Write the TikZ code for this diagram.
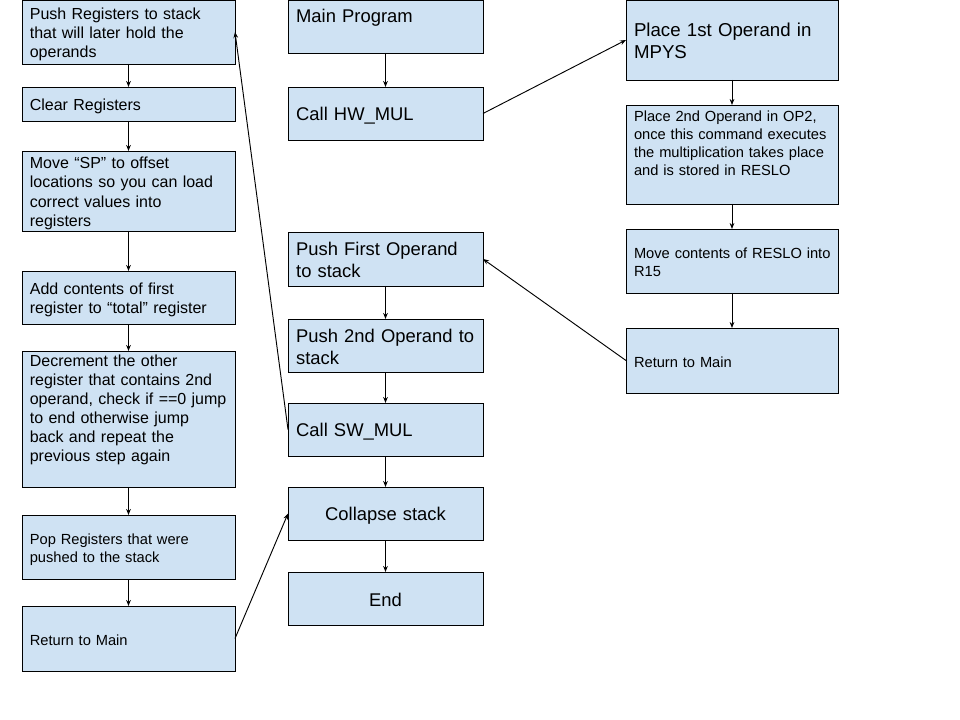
\documentclass[tikz,border=0pt]{standalone}
\usepackage{fontspec}
\setmainfont{Liberation Sans}
\usetikzlibrary{arrows.meta,positioning}
\definecolor{boxblue}{HTML}{CFE2F3}
\newcommand\boxstrut{\rule[-0.17em]{0pt}{\baselineskip}}
\newcommand\boxdepth{\rule[-0.17em]{0pt}{0.17em}}

\begin{document}
\begin{tikzpicture}[->,>={Stealth[length=4.5pt,width=3.5pt]},x=0.75pt,y=-0.75pt,
                    line width=0.7pt]
  \tikzstyle{box}=[draw=black,fill=boxblue,align=left,inner ysep=0pt,outer sep=0pt,
                   execute at begin node=\boxstrut,execute at end node=\boxdepth]
  \tikzstyle{lcol}=[box,text width=148pt,inner xsep=5.875pt,
                    font=\fontsize{12}{14.3}\selectfont]
  \tikzstyle{mcol}=[box,text width=134pt,inner xsep=6.125pt,minimum height=39.75pt,
                    font=\fontsize{13.8}{16.25}\selectfont]
  \tikzstyle{rcol}=[box,text width=147pt,inner xsep=6pt,
                    font=\fontsize{11}{13.5}\selectfont]
  \tikzstyle{small}=[font=\fontsize{11}{13.5}\selectfont]
  \tikzstyle{big}=[font=\fontsize{14}{16.25}\selectfont]

  \path[use as bounding box,fill=white] (0,0) rectangle (960,720);

  % left column: software multiply
  \node[lcol,minimum height=48pt,anchor=north west] (L1) at (22,0)
       {Push Registers to stack\\that will later hold the\\operands};
  \node[lcol,minimum height=25.5pt] (L2) [below=17.25pt of L1] {Clear Registers};
  \node[lcol,minimum height=60pt]   (L3) [below=22.5pt of L2]
       {Move “SP” to offset\\locations so you can load\\correct values into\\registers};
  \node[lcol,minimum height=39.75pt] (L4) [below=30pt of L3]
       {Add contents of first\\register to “total” register};
  \node[lcol,text height=11.7pt,text depth=90.3pt] (L5) [below=20.25pt of L4]
       {Decrement the other\\register that contains 2nd\\\mbox{operand, check if ==0 jump}\\to end otherwise jump\\back and repeat the\\previous step again};
  \node[lcol,small,minimum height=48pt] (L6) [below=21pt of L5]
       {Pop Registers that were\\pushed to the stack};
  \node[lcol,small,minimum height=48.75pt] (L7) [below=20.25pt of L6] {Return to Main};

  % middle column: main program
  \node[mcol,text height=17pt,text depth=22.75pt,anchor=north west] (M1) at (288,0)
       {Main Program};
  \node[mcol]                   (M2) [below=25.5pt of M1]  {Call HW\_MUL};
  \node[mcol,minimum height=40.5pt] (M3) [below=69pt of M2]
       {Push First Operand\\to stack};
  \node[mcol]                   (M4) [below=24.75pt of M3] {\mbox{Push 2nd Operand to}\\stack};
  \node[mcol]                   (M5) [below=23.25pt of M4] {Call SW\_MUL};
  \node[mcol,align=center]      (M6) [below=23.25pt of M5] {Collapse stack};
  \node[mcol,align=center]      (M7) [below=24pt of M6]    {End};

  % right column: hardware multiply
  \node[rcol,big,minimum height=60pt,anchor=north west] (R1) at (626,0)
       {Place 1st Operand in\\MPYS};
  \node[rcol,text height=12.75pt,text depth=61.5pt] (R2) [below=18.75pt of R1]
       {Place 2nd Operand in OP2,\\once this command executes\\\mbox{the multiplication takes place}\\and is stored in RESLO};
  \node[rcol,minimum height=48pt]    (R3) [below=18.75pt of R2]
       {\mbox{Move contents of RESLO into}\\R15};
  \node[rcol,minimum height=48.75pt] (R4) [below=26.25pt of R3] {Return to Main};

  \path (L1) edge (L2)
        (L2) edge (L3)
        (L3) edge (L4)
        (L4) edge (L5)
        (L5) edge (L6)
        (L6) edge (L7)
        (M1) edge (M2)
        (M3) edge (M4)
        (M4) edge (M5)
        (M5) edge (M6)
        (M6) edge (M7)
        (R1) edge (R2)
        (R2) edge (R3)
        (R3) edge (R4)
        (M2.east) edge (R1.west)
        (R4.west) edge (M3.east)
        (M5.west) edge (L1.east)
        (L7.east) edge (M6.west);
\end{tikzpicture}
\end{document}
